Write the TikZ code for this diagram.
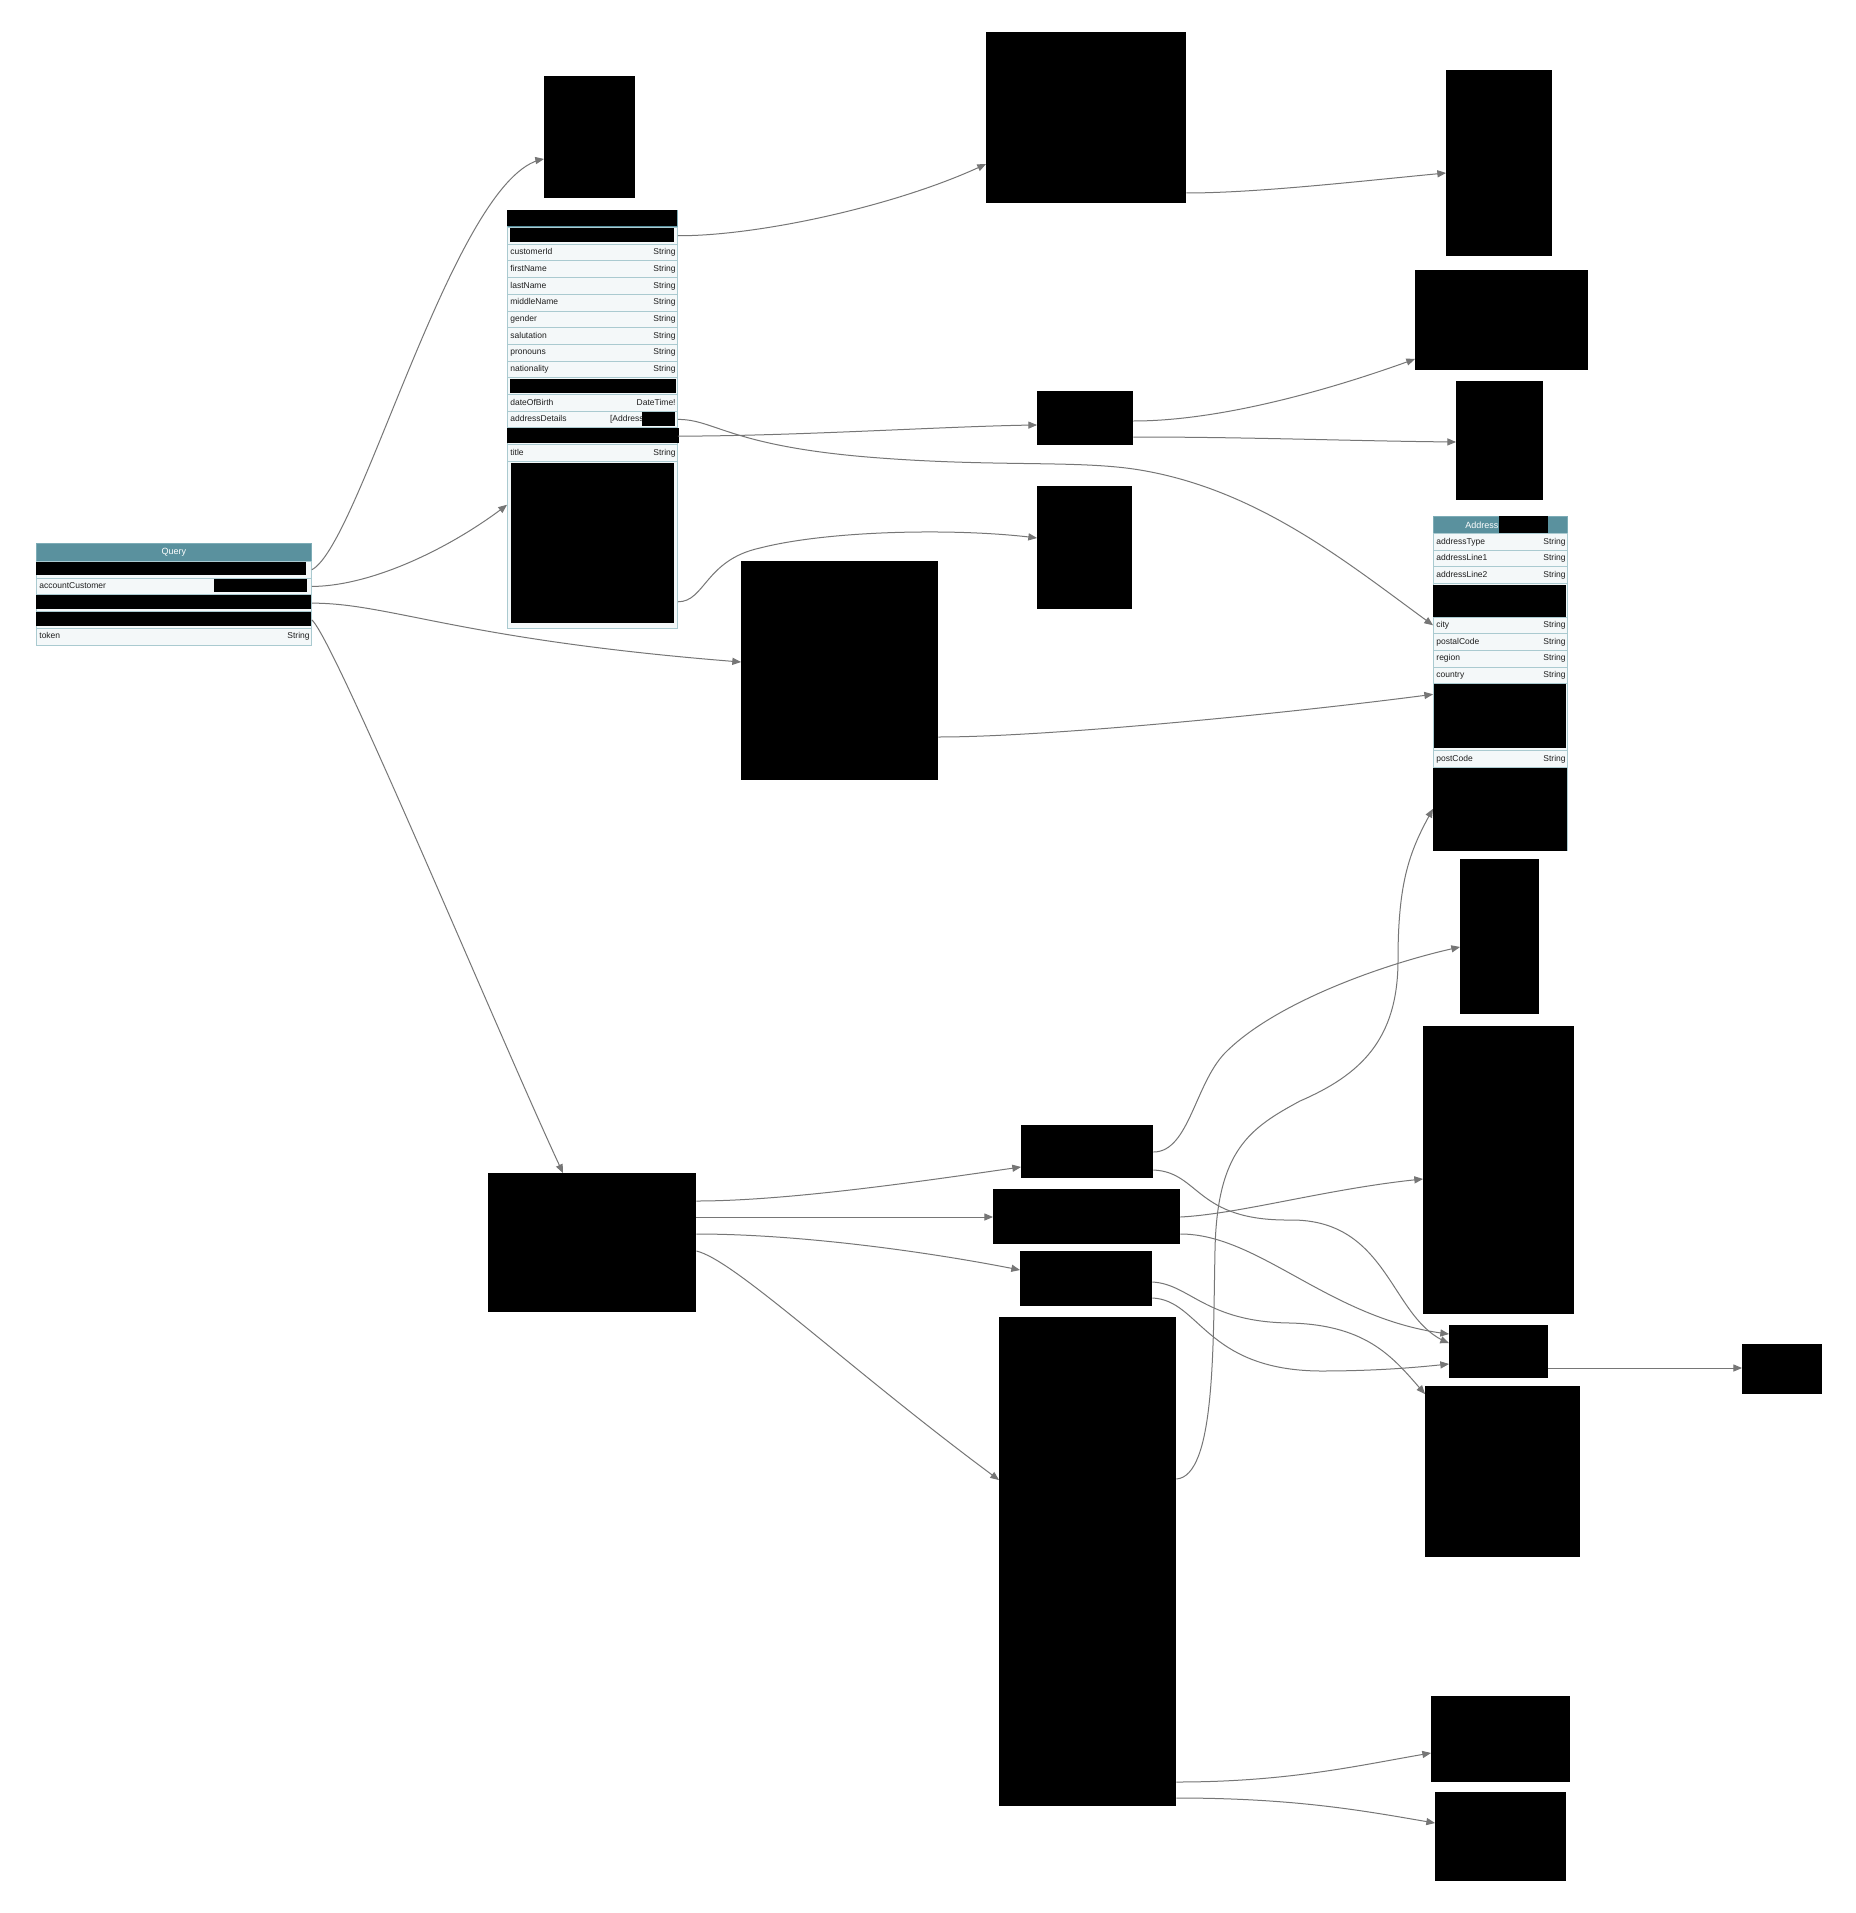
\documentclass[tikz,border=0pt]{standalone}
\usepackage{fontspec}
\setmainfont{Liberation Sans}
\usepackage{tikz}
\usetikzlibrary{arrows}

\definecolor{headteal}{RGB}{90,145,158}
\definecolor{headline}{RGB}{125,172,182}
\definecolor{rowfill}{RGB}{244,248,249}
\definecolor{rowline}{RGB}{170,202,208}
\definecolor{fieldtext}{RGB}{30,30,30}
\definecolor{linkgray}{RGB}{118,118,118}
\newcommand{\fieldfont}{\fontsize{8.5}{10}\selectfont}
\newcommand{\headfont}{\fontsize{9}{10}\selectfont}

\begin{document}
\begin{tikzpicture}[x=1pt,y=-1pt]

	\tikzstyle table head=[draw=headline, fill=headteal, line width=.8pt, anchor=north west, minimum height=17pt, inner sep=0pt, text=white, font=\headfont]
	\tikzstyle field row=[draw=rowline, fill=rowfill, line width=.8pt, anchor=north west, minimum height=16.7pt, inner xsep=3pt, inner ysep=0pt, text height=6.5pt, text depth=2pt, align=left, font=\fieldfont, text=fieldtext]
	\tikzstyle query row=[field row, text width=269pt]
	\tikzstyle customer row=[field row, text width=164pt]
	\tikzstyle address row=[field row, text width=128pt]
	\tikzstyle type label=[anchor=east, inner sep=0pt, xshift=-2pt, text height=6.5pt, text depth=2pt, font=\fieldfont, text=fieldtext]
	\tikzstyle redacted=[fill=black, draw=none, anchor=north west, inner sep=0pt]
	\tikzstyle link lines=[draw=linkgray, line width=1pt, -triangle 45]

	\fill[white] (0,0) rectangle (1855,1913);
	\useasboundingbox (0,0) rectangle (1855,1913);

	% Query
	\node[table head, minimum width=275pt, minimum height=18pt, text width=275pt, align=center] (query) at (36,543) {Query};
	\node[query row] (q-1) at (36,561) {};
	\node[query row] (q-acct) at (36,577.7) {accountCustomer};
	\node[query row] (q-3) at (36,594.4) {};
	\node[query row] (q-4) at (36,611.1) {};
	\node[query row, label={[type label]east:String}] (q-token) at (36,627.8) {token};
	\node[redacted, minimum width=270pt, minimum height=13pt] (q-1x) at (36,562) {};
	\node[redacted, minimum width=93pt, minimum height=13pt] (q-acctx) at (214,578.5) {};
	\node[redacted, minimum width=275pt, minimum height=14pt] (q-3x) at (36,595) {};
	\node[redacted, minimum width=275pt, minimum height=14pt] (q-4x) at (36,611.5) {};

	% customer
	\node[table head, minimum width=170pt] (customer) at (507,210) {};
	\node[customer row] (c-0) at (507,227) {};
	\node[customer row, label={[type label]east:String}] (c-id) at (507,243.7) {customerId};
	\node[customer row, label={[type label]east:String}] (c-first) at (507,260.4) {firstName};
	\node[customer row, label={[type label]east:String}] (c-last) at (507,277.1) {lastName};
	\node[customer row, label={[type label]east:String}] (c-middle) at (507,293.8) {middleName};
	\node[customer row, label={[type label]east:String}] (c-gender) at (507,310.5) {gender};
	\node[customer row, label={[type label]east:String}] (c-salut) at (507,327.2) {salutation};
	\node[customer row, label={[type label]east:String}] (c-pron) at (507,343.9) {pronouns};
	\node[customer row, label={[type label]east:String}] (c-nat) at (507,360.6) {nationality};
	\node[customer row] (c-9) at (507,377.3) {};
	\node[customer row, label={[type label]east:DateTime!}] (c-dob) at (507,394) {dateOfBirth};
	\node[customer row, label={[type label, xshift=-32pt]east:{[Address}}] (c-addr) at (507,410.7) {addressDetails};
	\node[customer row] (c-12) at (507,427.4) {};
	\node[customer row, label={[type label]east:String}] (c-title) at (507,444.1) {title};
	\node[customer row, minimum height=167pt] (c-rest) at (507,460.8) {};
	\node[redacted, minimum width=170pt, minimum height=15.5pt] (customer-x) at (507,210) {};
	\node[redacted, minimum width=164pt, minimum height=14pt] (c-0x) at (510,228) {};
	\node[redacted, minimum width=166pt, minimum height=14pt] (c-9x) at (510,378.3) {};
	\node[redacted, minimum width=33pt, minimum height=14pt] (c-addrx) at (642,411.5) {};
	\node[redacted, minimum width=172pt, minimum height=15pt] (c-12x) at (507,428.2) {};
	\node[redacted, minimum width=163pt, minimum height=160pt] (c-restx) at (511,463) {};

	% Address
	\node[table head, minimum width=134pt, text width=134pt, align=left] (address) at (1433,516) {\hspace*{32pt}Address};
	\node[address row, label={[type label]east:String}] (a-type) at (1433,533) {addressType};
	\node[address row, label={[type label]east:String}] (a-line1) at (1433,549.7) {addressLine1};
	\node[address row, label={[type label]east:String}] (a-line2) at (1433,566.4) {addressLine2};
	\node[address row, minimum height=33.4pt] (a-4) at (1433,583.1) {};
	\node[address row, label={[type label]east:String}] (a-city) at (1433,616.5) {city};
	\node[address row, label={[type label]east:String}] (a-postal) at (1433,633.2) {postalCode};
	\node[address row, label={[type label]east:String}] (a-region) at (1433,649.9) {region};
	\node[address row, label={[type label]east:String}] (a-country) at (1433,666.6) {country};
	\node[address row, minimum height=66.8pt] (a-9) at (1433,683.3) {};
	\node[address row, label={[type label]east:String}] (a-post) at (1433,750.1) {postCode};
	\node[address row, minimum height=83.5pt] (a-11) at (1433,766.8) {};
	\node[redacted, minimum width=49pt, minimum height=17pt] (address-x) at (1499,516) {};
	\node[redacted, minimum width=133pt, minimum height=32pt] (a-4x) at (1433,585) {};
	\node[redacted, minimum width=132pt, minimum height=64pt] (a-9x) at (1434,684) {};
	\node[redacted, minimum width=134pt, minimum height=83pt] (a-11x) at (1433,768) {};

	% hidden types
	\node[redacted, minimum width=91pt, minimum height=122pt] (tA) at (544,76) {};
	\node[redacted, minimum width=200pt, minimum height=171pt] (tB) at (986,32) {};
	\node[redacted, minimum width=106pt, minimum height=186pt] (tC) at (1446,70) {};
	\node[redacted, minimum width=173pt, minimum height=100pt] (tD) at (1415,270) {};
	\node[redacted, minimum width=96pt, minimum height=54pt] (tE) at (1037,391) {};
	\node[redacted, minimum width=87pt, minimum height=119pt] (tF) at (1456,381) {};
	\node[redacted, minimum width=95pt, minimum height=123pt] (tG) at (1037,486) {};
	\node[redacted, minimum width=197pt, minimum height=219pt] (tH) at (741,561) {};
	\node[redacted, minimum width=79pt, minimum height=155pt] (tI) at (1460,859) {};
	\node[redacted, minimum width=151pt, minimum height=288pt] (tJ) at (1423,1026) {};
	\node[redacted, minimum width=208pt, minimum height=139pt] (tK) at (488,1173) {};
	\node[redacted, minimum width=132pt, minimum height=53pt] (tL) at (1021,1125) {};
	\node[redacted, minimum width=187pt, minimum height=55pt] (tM) at (993,1189) {};
	\node[redacted, minimum width=132pt, minimum height=55pt] (tN) at (1020,1251) {};
	\node[redacted, minimum width=177pt, minimum height=489pt] (tO) at (999,1317) {};
	\node[redacted, minimum width=99pt, minimum height=53pt] (tP) at (1449,1325) {};
	\node[redacted, minimum width=155pt, minimum height=171pt] (tQ) at (1425,1386) {};
	\node[redacted, minimum width=80pt, minimum height=50pt] (tR) at (1742,1344) {};
	\node[redacted, minimum width=139pt, minimum height=86pt] (tS) at (1431,1696) {};
	\node[redacted, minimum width=131pt, minimum height=89pt] (tT) at (1435,1792) {};

	% links
	\draw[link lines] (q-1.east) .. controls (360,545) and (455,175) .. ([yshift=-83pt]tA.north west);
	\draw[link lines] (q-acct.east) .. controls (375,586) and (455,545) .. ([yshift=-44pt]c-rest.north west);
	\draw[link lines] (q-3.east) .. controls (390,603) and (460,640) .. ([yshift=-101pt]tH.north west);
	\draw[link lines] (q-4.east) .. controls (335,640) and (505,1050) .. ([xshift=75pt]tK.north west);

	\draw[link lines] (c-0.east) .. controls (760,236) and (900,205) .. ([yshift=-132pt]tB.north west);
	\draw[link lines] ([yshift=-161pt]tB.north east) .. controls (1260,193) and (1370,180) .. ([yshift=-103pt]tC.north west);
	\draw[link lines] (c-addr.east) .. controls (715,419) and (730,447) .. (880,458) .. controls (1000,467) and (1080,460) .. (1140,470) .. controls (1260,490) and (1350,565) .. (a-city.west);
	\draw[link lines] (c-12.east) .. controls (800,436) and (950,426) .. ([yshift=-34pt]tE.north west);
	\draw[link lines] ([yshift=-30pt]tE.north east) .. controls (1220,421) and (1330,390) .. ([yshift=-89pt]tD.north west);
	\draw[link lines] ([yshift=-46pt]tE.north east) .. controls (1250,437) and (1350,441) .. ([yshift=-61pt]tF.north west);
	\draw[link lines] ([yshift=-141pt]c-rest.north east) .. controls (705,602) and (705,560) .. (760,548) .. controls (830,530) and (960,528) .. ([yshift=-52pt]tG.north west);
	\draw[link lines] ([yshift=-176pt]tH.north east) .. controls (1050,737) and (1300,712) .. ([yshift=-11pt]a-9.north west);

	\draw[link lines] ([yshift=-28pt]tK.north east) .. controls (790,1201) and (930,1180) .. ([yshift=-42pt]tL.north west);
	\draw[link lines] ([yshift=-44pt]tK.north east) -- ([yshift=-28pt]tM.north west);
	\draw[link lines] ([yshift=-61pt]tK.north east) .. controls (800,1234) and (930,1252) .. ([yshift=-19pt]tN.north west);
	\draw[link lines] ([yshift=-78pt]tK.north east) .. controls (735,1260) and (850,1370) .. ([yshift=-163pt]tO.north west);

	\draw[link lines] ([yshift=-27pt]tL.north east) .. controls (1190,1152) and (1195,1080) .. (1228,1050) .. controls (1280,1000) and (1390,962) .. ([yshift=-88pt]tI.north west);
	\draw[link lines] ([yshift=-45pt]tL.north east) .. controls (1200,1172) and (1195,1221) .. (1290,1220) .. controls (1390,1219) and (1390,1320) .. ([yshift=-18pt]tP.north west);
	\draw[link lines] ([yshift=-28pt]tM.north east) .. controls (1240,1214) and (1330,1188) .. ([yshift=-153pt]tJ.north west);
	\draw[link lines] ([yshift=-45pt]tM.north east) .. controls (1260,1234) and (1330,1320) .. ([yshift=-9pt]tP.north west);
	\draw[link lines] ([yshift=-31pt]tN.north east) .. controls (1190,1284) and (1205,1322) .. (1290,1323) .. controls (1370,1325) and (1395,1360) .. ([yshift=-8pt]tQ.north west);
	\draw[link lines] ([yshift=-47pt]tN.north east) .. controls (1200,1300) and (1205,1370) .. (1320,1371) .. controls (1380,1371) and (1420,1367) .. ([yshift=-39pt]tP.north west);
	\draw[link lines] ([yshift=-162pt]tO.north east) .. controls (1215,1476) and (1213,1350) .. (1215,1250) .. controls (1217,1150) and (1250,1128) .. (1300,1101) .. controls (1360,1075) and (1398,1040) .. (1398,960) .. controls (1398,880) and (1410,850) .. ([yshift=-42pt]a-11.north west);
	\draw[link lines] ([yshift=-43pt]tP.north east) -- ([yshift=-24pt]tR.north west);
	\draw[link lines] ([yshift=-465pt]tO.north east) .. controls (1290,1782) and (1360,1765) .. ([yshift=-57pt]tS.north west);
	\draw[link lines] ([yshift=-481pt]tO.north east) .. controls (1300,1798) and (1370,1812) .. ([yshift=-31pt]tT.north west);

\end{tikzpicture}
\end{document}
